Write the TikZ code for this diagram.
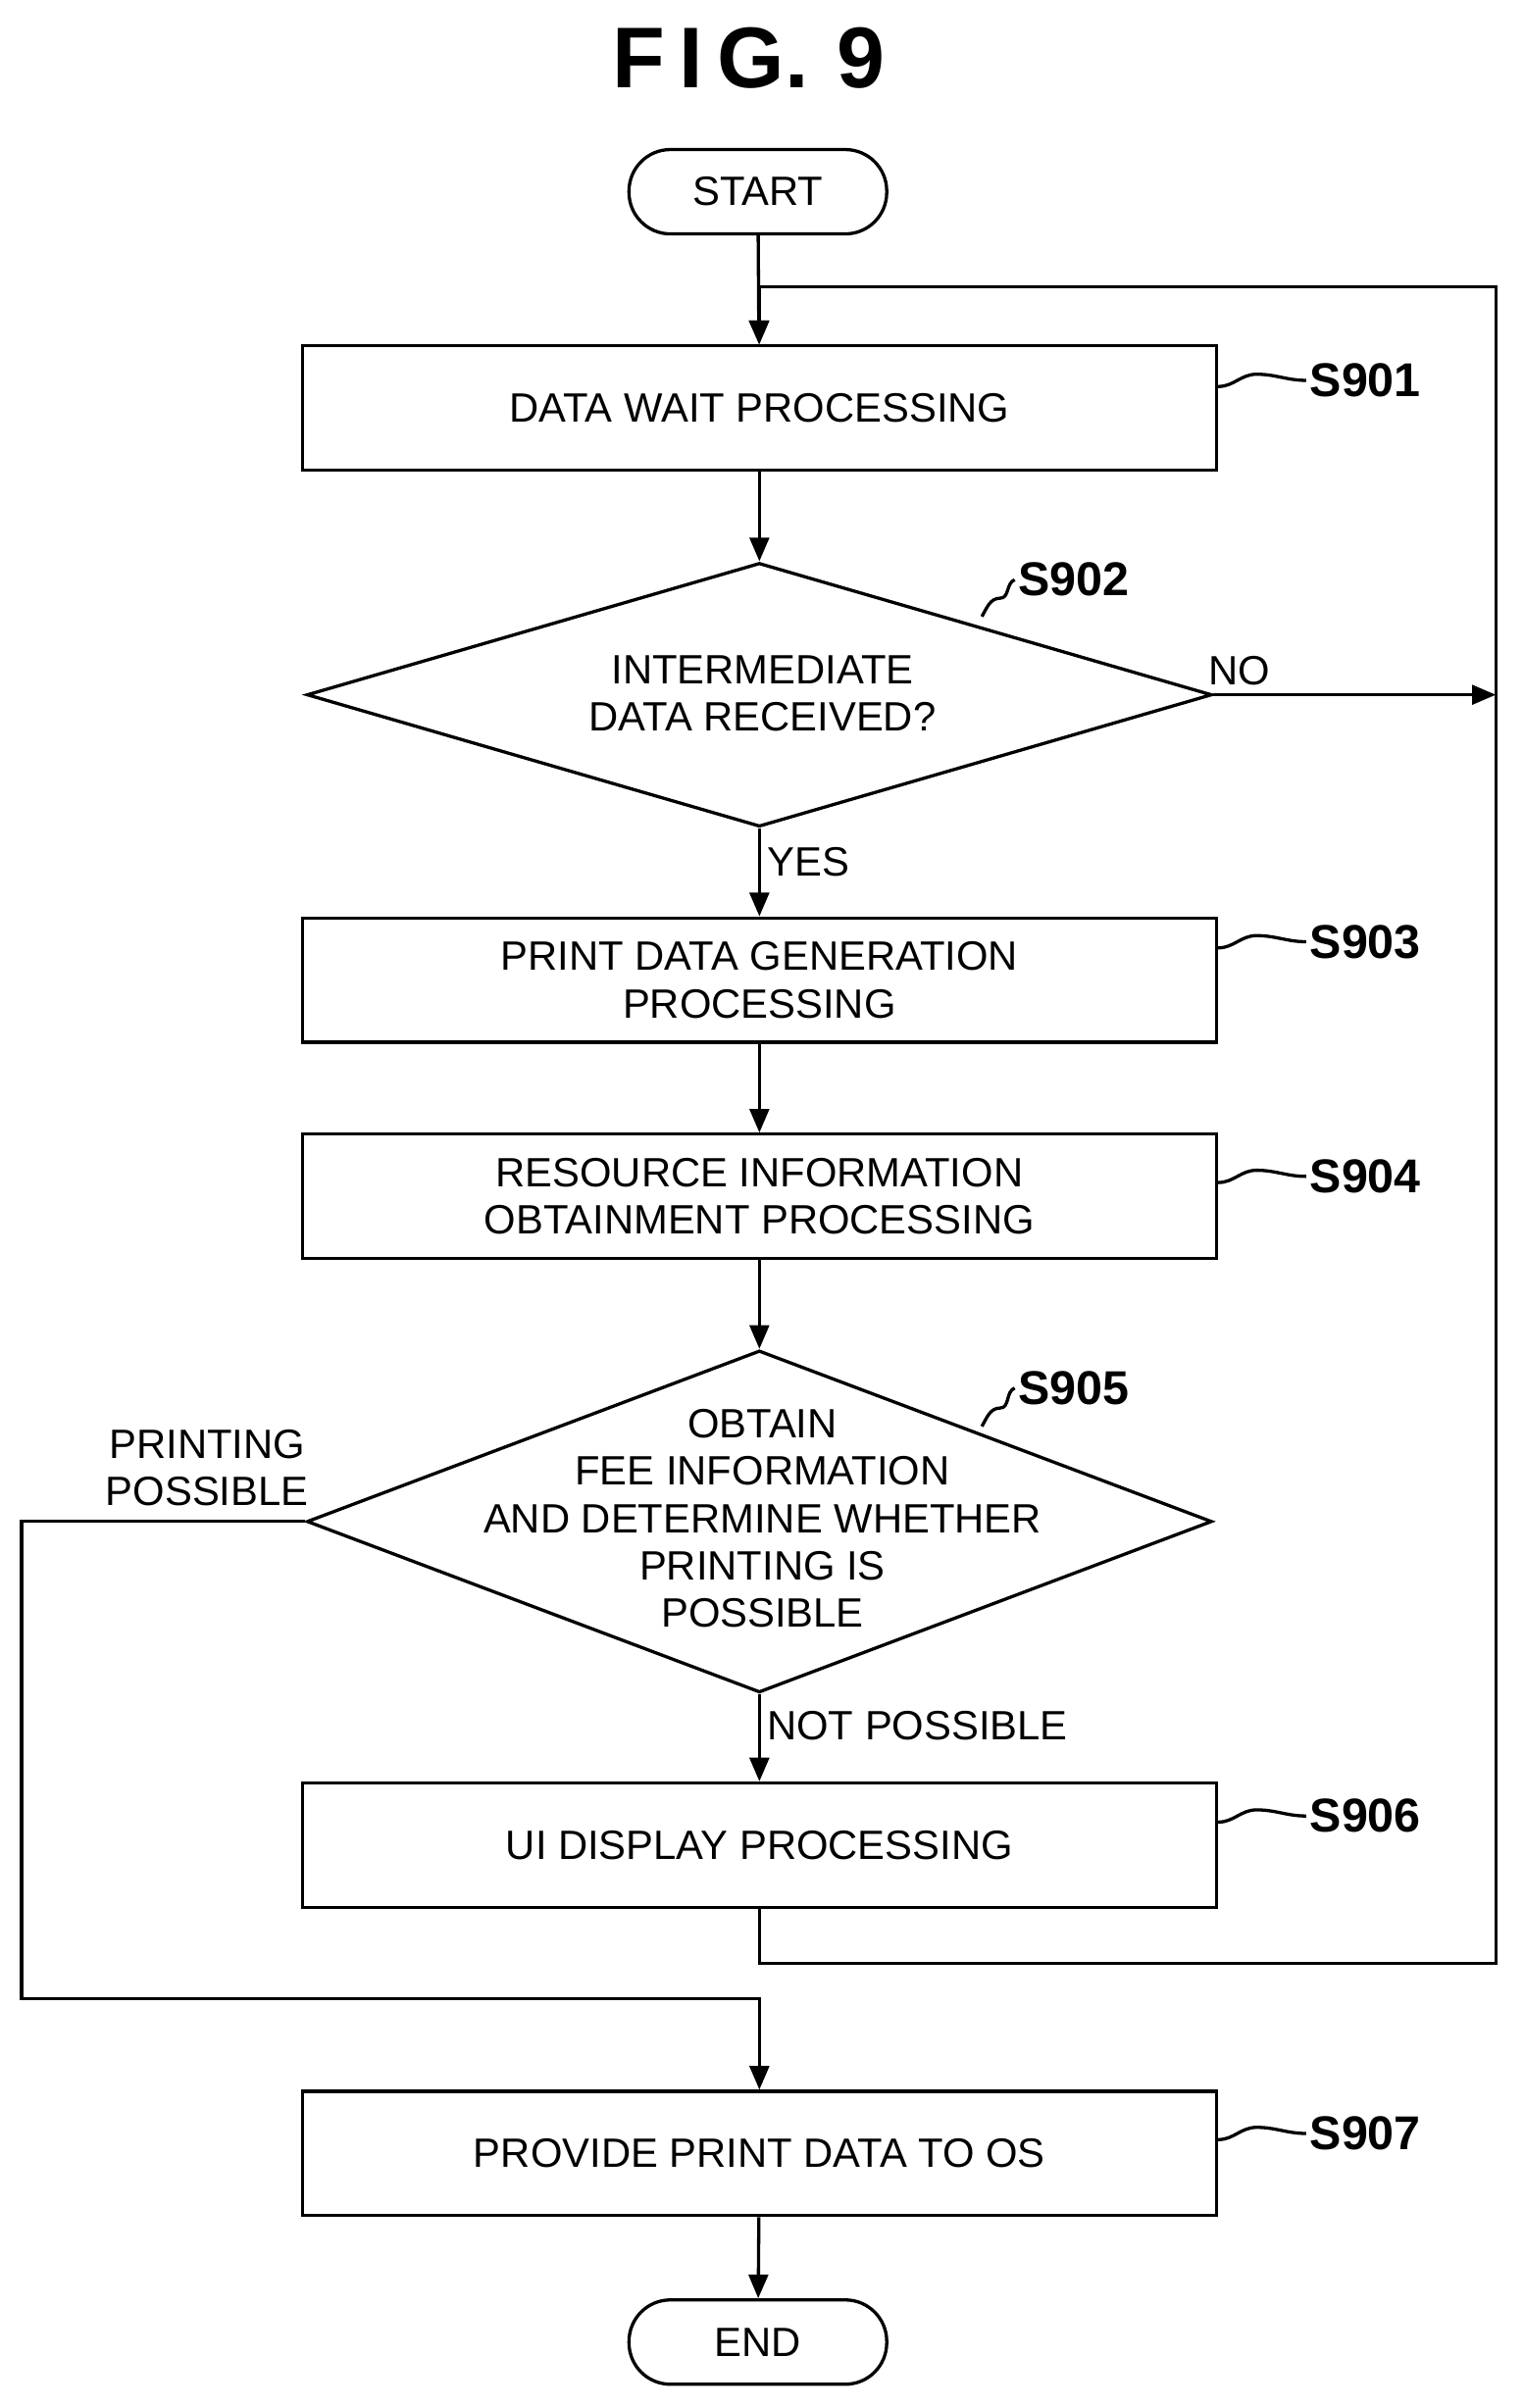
\documentclass[tikz,border=0pt]{standalone}
\usepackage{fontspec}
\setmainfont{Liberation Sans}
\usetikzlibrary{shapes.geometric,arrows.meta}
\begin{document}
\begin{tikzpicture}[x=0.05cm,y=-0.05cm,
  every node/.style={font=\fontsize{38}{44}\selectfont},
  ln/.style={line width=3pt},
  arr/.style={ln,-{Triangle[length=22pt,width=18pt]}},
  box/.style={draw,ln,minimum width=596*0.05cm,minimum height=81*0.05cm,align=center,inner sep=0pt},
  term/.style={draw,ln,rounded corners=27*0.05cm,minimum width=168*0.05cm,minimum height=55*0.05cm,inner sep=0pt},
  dia/.style={draw,ln,diamond,aspect=3.43,minimum width=590*0.05cm,inner sep=0pt,align=center},
  lab/.style={font=\bfseries\fontsize{44}{50}\selectfont},
  txt/.style={align=center,font=\fontsize{38}{44}\selectfont}]
\useasboundingbox (0,0) rectangle (993,1570);
\node[font=\bfseries\fontsize{80}{90}\selectfont] (title) at (488,38) {F\,I\,G.\,\,9};
\node[term] (start) at (494,125) {START};
\node[box] (s901) at (495,266) {DATA WAIT PROCESSING};
\node[dia,minimum height=172*0.05cm] (s902) at (495,453) {};
\node[txt] at (497,452) {INTERMEDIATE\\DATA RECEIVED?};
\node[box] (s903) at (495,639) {PRINT DATA GENERATION\\PROCESSING};
\node[box] (s904) at (495,780) {RESOURCE INFORMATION\\OBTAINMENT PROCESSING};
\node[dia,minimum height=223*0.05cm] (s905) at (495,992) {};
\node[txt] at (497,990) {OBTAIN\\FEE INFORMATION\\AND DETERMINE WHETHER\\PRINTING IS\\POSSIBLE};
\node[box] (s906) at (495,1203) {UI DISPLAY PROCESSING};
\node[box] (s907) at (495,1404) {PROVIDE PRINT DATA TO OS};
\node[term] (end) at (494,1527) {END};
% step labels
\node[lab] (l901) at (890,248) {S901};
\node[lab] (l902) at (700,378) {S902};
\node[lab] (l903) at (890,614) {S903};
\node[lab] (l904) at (890,767) {S904};
\node[lab] (l905) at (700,905) {S905};
\node[lab] (l906) at (890,1184) {S906};
\node[lab] (l907) at (890,1391) {S907};
\foreach \b/\l in {s901/l901,s903/l903,s904/l904,s906/l906,s907/l907}{
  \draw[ln] (\b.east |- \l.west) ++(0,4) to[out=0,in=180] ++(25,-8) to[out=0,in=180] (\l.west);}
\draw[ln] (640,402) to[out=60,in=180] (652,390) to[out=0,in=200] (l902.west);
\draw[ln] (640,930) to[out=60,in=180] (652,918) to[out=0,in=200] (l905.west);
% edge labels
\node (no) at (808,437) {NO};
\node (yes) at (527,562) {YES};
\node[align=center] (pp) at (135,957) {PRINTING\\POSSIBLE};
\node (np) at (598,1125) {NOT POSSIBLE};
% connectors
\coordinate (loopin) at (495,187);
\coordinate (rtop) at (975,187);
\coordinate (rno) at (975,453);
\coordinate (rbot) at (975,1280);
\coordinate (s906b) at (495,1280);
\coordinate (l1) at (14,992);
\coordinate (l2) at (14,1303);
\coordinate (l3) at (495,1303);
\draw[arr] (start) -- (s901);
\draw[arr] (s901) -- (s902);
\draw[arr] (s902) -- (s903);
\draw[arr] (s903) -- (s904);
\draw[arr] (s904) -- (s905);
\draw[arr] (s905) -- (s906);
\draw[arr] (s907) -- (end);
\draw[arr] (s902.east) -- (rno);
\draw[arr] (s906.south) -- (s906b) -- (rbot) -- (rtop) -- (loopin) -- (s901.north);
\draw[arr] (s905.west) -- (l1) -- (l2) -- (l3) -- (s907.north);
\end{tikzpicture}
\end{document}
